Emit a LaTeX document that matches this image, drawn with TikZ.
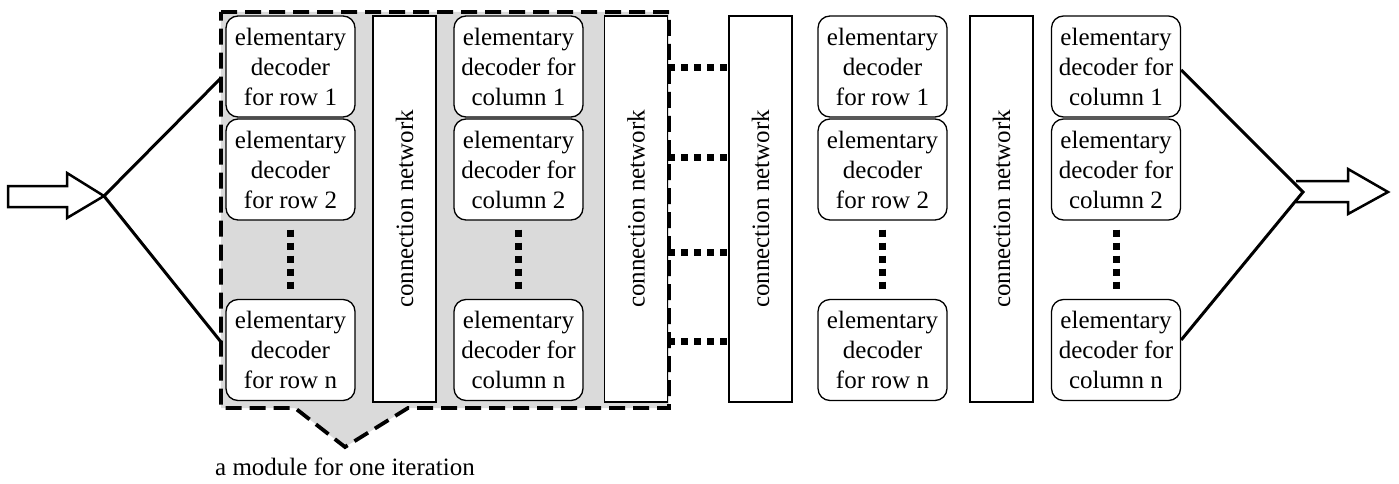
\documentclass[tikz,border=0pt]{standalone}
\usepackage{fontspec}
\setmainfont{Liberation Serif}
\begin{document}
\begin{tikzpicture}[x=1pt,y=-1pt,
  dec/.style={draw, line width=1.3pt, rounded corners=12pt, fill=white,
    minimum width=129pt, minimum height=101pt, align=center, inner sep=0pt,
    font=\fontsize{25}{30}\selectfont},
  cn/.style={draw, line width=1.3pt, fill=white, minimum width=63pt,
    minimum height=386pt, inner sep=0pt},
  cntext/.style={rotate=90, font=\fontsize{25}{30}\selectfont},
  dotline/.style={line width=7pt, dash pattern=on 7pt off 6pt},
  heavy/.style={line width=3pt},
  modframe/.style={line width=3.8pt, dash pattern=on 16pt off 8pt},
  hollow/.style={line width=2.5pt, line join=miter}]
\useasboundingbox (0,0) rectangle (1399,484);
\definecolor{modgray}{RGB}{218,218,218}

% module frame
\draw[modframe, fill=modgray] (221,12) -- (669,12) -- (669,408) -- (408,408)
  -- (345,447) -- (295,408) -- (221,408) -- cycle;
\node[font=\fontsize{25}{30}\selectfont] (lbl) at (345,467) {a module for one iteration};

% column 1: row decoders
\node[dec] (r1) at (290.5,66.5) {elementary\\decoder\\for row 1};
\node[dec] (r2) at (290.5,169.5) {elementary\\decoder\\for row 2};
\node[dec] (rn) at (290.5,350) {elementary\\decoder\\for row n};
\draw[dotline] ([yshift=-9pt]r2.south) -- ([yshift=8pt]rn.north);

\node[cn] (cn1) at (404.5,209) {};
\node[cntext] at (cn1.center) {connection network};

% column 2: column decoders
\node[dec] (c1) at (518.5,66.5) {elementary\\decoder for\\column 1};
\node[dec] (c2) at (518.5,169.5) {elementary\\decoder for\\column 2};
\node[dec] (cn) at (518.5,350) {elementary\\decoder for\\column n};
\draw[dotline] ([yshift=-9pt]c2.south) -- ([yshift=8pt]cn.north);

\node[cn] (cn2) at (636,209) {};
\node[cntext] at (cn2.center) {connection network};

\node[cn] (cn3) at (760.5,209) {};
\node[cntext] at (cn3.center) {connection network};

% dotted links between cn2 and cn3
\foreach \yy [count=\i] in {68,157,252,341}{
  \coordinate (h\i) at (0,\yy);
  \draw[dotline] (cn2.east |- h\i) -- (cn3.west |- h\i);
}

% column 3: row decoders
\node[dec] (s1) at (882.5,66.5) {elementary\\decoder\\for row 1};
\node[dec] (s2) at (882.5,169.5) {elementary\\decoder\\for row 2};
\node[dec] (sn) at (882.5,350) {elementary\\decoder\\for row n};
\draw[dotline] ([yshift=-9pt]s2.south) -- ([yshift=8pt]sn.north);

\node[cn] (cn4) at (1001.5,209) {};
\node[cntext] at (cn4.center) {connection network};

% column 4: column decoders
\node[dec] (d1) at (1116,66.5) {elementary\\decoder for\\column 1};
\node[dec] (d2) at (1116,169.5) {elementary\\decoder for\\column 2};
\node[dec] (dn) at (1116,350) {elementary\\decoder for\\column n};
\draw[dotline] ([yshift=-9pt]d2.south) -- ([yshift=8pt]dn.north);

% input
\coordinate (inTip) at (104,196);
\coordinate (inTop) at (221,78);
\coordinate (inBot) at (221,342);
\draw[hollow] (8,186) -- (67,186) -- (67,173) -- (inTip) -- (67,218) -- (67,207) -- (8,207) -- cycle;
\draw[heavy] (inTop) -- (inTip) -- (inBot);

% output
\coordinate (outJ) at (1303,192);
\draw[heavy] (d1.east |- 0,70) -- (outJ) -- (dn.east |- 0,340);
\draw[hollow] (1296,181) -- (1348,181) -- (1348,169) -- (1388,192) -- (1348,214)
  -- (1348,202) -- (1296,202);
\end{tikzpicture}
\end{document}
